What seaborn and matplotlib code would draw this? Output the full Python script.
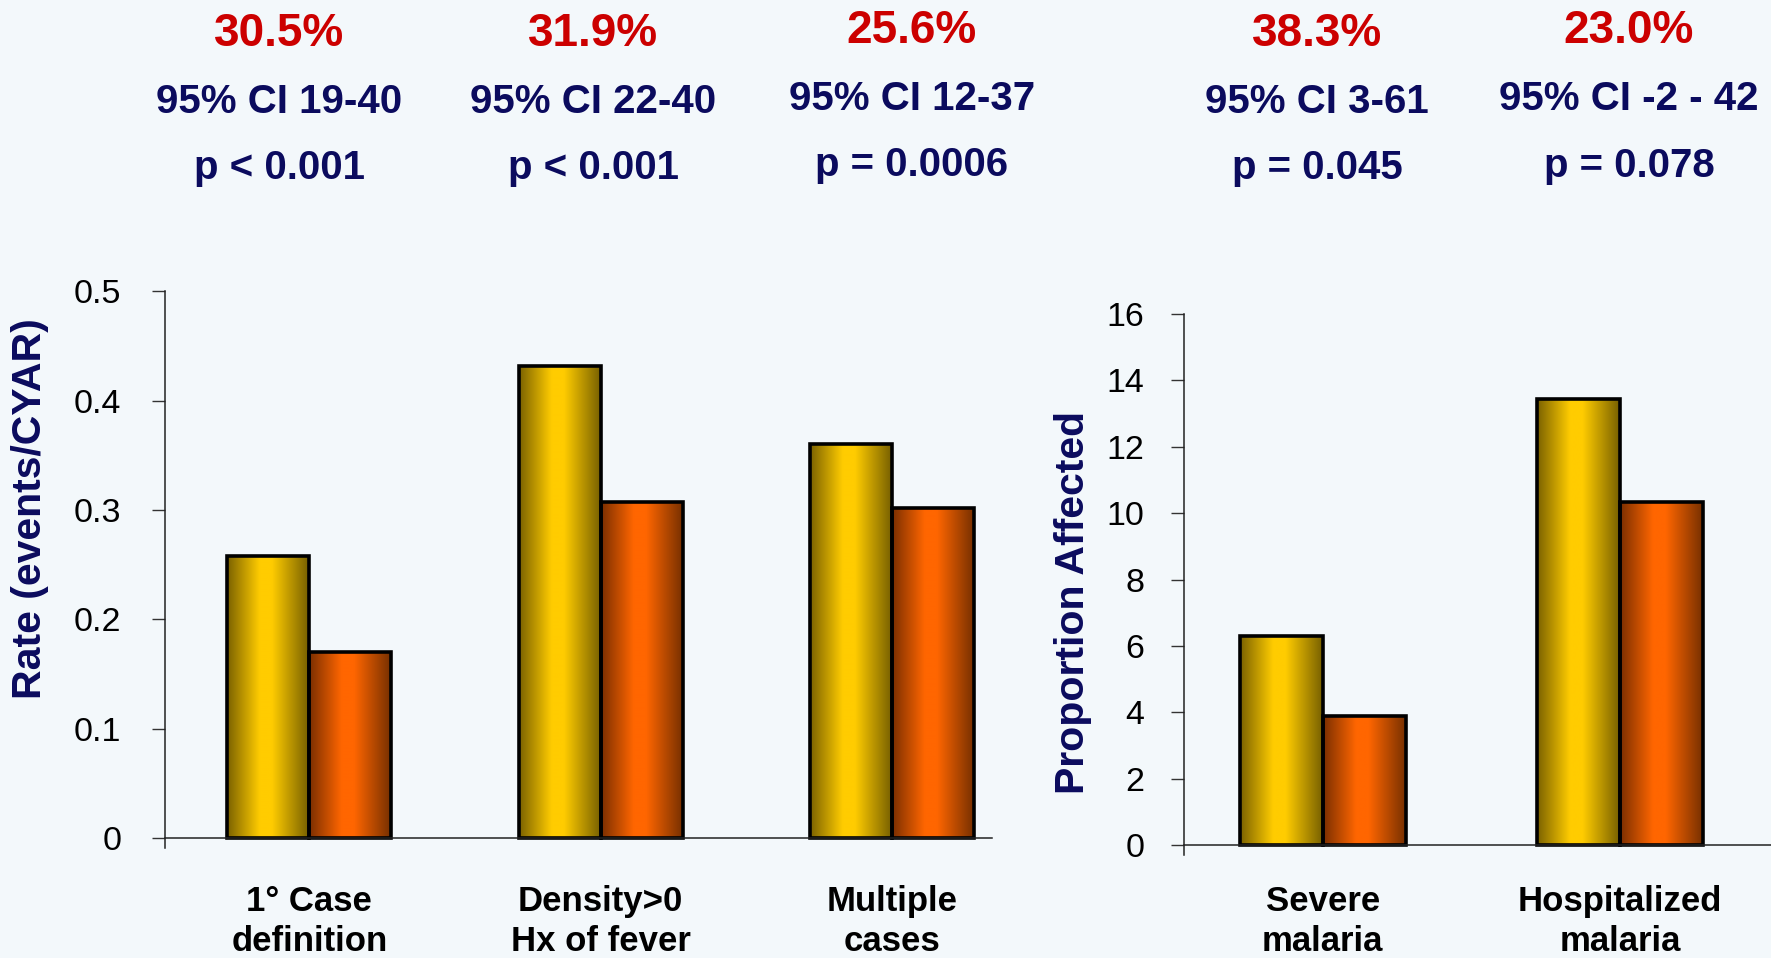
import numpy as np
import pandas as pd
import matplotlib
matplotlib.use("Agg")
import matplotlib.pyplot as plt
from matplotlib.colors import LinearSegmentedColormap
import seaborn as sns

# ---- data -------------------------------------------------------------
rate_categories = ["1° Case\ndefinition", "Density>0\nHx of fever", "Multiple\ncases"]
rate_control = [0.258, 0.432, 0.360]
rate_treated = [0.170, 0.307, 0.302]

prop_categories = ["Severe\nmalaria", "Hospitalized\nmalaria"]
prop_control = [6.30, 13.45]
prop_treated = [3.90, 10.35]

arms = ["Control", "Intervention"]

efficacy = ["30.5%", "31.9%", "25.6%", "38.3%", "23.0%"]
conf_int = ["95% CI 19-40", "95% CI 22-40", "95% CI 12-37", "95% CI 3-61", "95% CI -2 - 42"]
p_values = ["p < 0.001", "p < 0.001", "p = 0.0006", "p = 0.045", "p = 0.078"]

rate_ticks = [0, 0.1, 0.2, 0.3, 0.4, 0.5]
rate_ticklabels = ["0", "0.1", "0.2", "0.3", "0.4", "0.5"]
prop_ticks = [0, 2, 4, 6, 8, 10, 12, 14, 16]

# ---- style ------------------------------------------------------------
BG = "#F3F8FB"
NAVY = "#0B0B5E"
RED = "#CC0000"
W, H = 1771, 958

sns.set_theme(style="ticks")
plt.rcParams["font.family"] = ["Liberation Sans", "DejaVu Sans"]
plt.rcParams["axes.edgecolor"] = "#222222"
plt.rcParams["axes.linewidth"] = 1.1

yellow_cmap = LinearSegmentedColormap.from_list(
    "gold", [(0.0, "#7A6100"), (0.40, "#FFCC00"), (0.55, "#FFCC00"), (1.0, "#776000")])
orange_cmap = LinearSegmentedColormap.from_list(
    "flame", [(0.0, "#7A2E00"), (0.40, "#FF6600"), (0.55, "#FF6600"), (1.0, "#773000")])

rate_df = pd.DataFrame({
    "category": rate_categories * 2,
    "arm": [arms[0]] * 3 + [arms[1]] * 3,
    "value": rate_control + rate_treated,
})
prop_df = pd.DataFrame({
    "category": prop_categories * 2,
    "arm": [arms[0]] * 2 + [arms[1]] * 2,
    "value": prop_control + prop_treated,
})

fig = plt.figure(figsize=(W / 100, H / 100), dpi=100, facecolor=BG)
ax1 = fig.add_axes([0.0932, 0.1144, 0.4669, 0.5814])
ax2 = fig.add_axes([0.6686, 0.1075, 0.3314, 0.5647])


def draw_panel(ax, df, width, xlim, ylim, yticks, yticklabels, ypad, xpad):
    ax.set_facecolor(BG)
    sns.barplot(data=df, x="category", y="value", hue="arm", ax=ax,
                width=width, palette=["#FFCC00", "#FF6600"],
                edgecolor="black", linewidth=2.6, legend=False)
    # shaded cylinder-like fill inside every bar
    for container, cmap in zip(ax.containers, [yellow_cmap, orange_cmap]):
        for patch in container.patches:
            x0, w = patch.get_x(), patch.get_width()
            y0, h = patch.get_y(), patch.get_height()
            grad = np.linspace(0, 1, 256)[None, :]
            im = ax.imshow(grad, extent=[x0, x0 + w, y0, y0 + h], aspect="auto",
                           cmap=cmap, interpolation="bilinear", zorder=0.9)
            im.set_clip_path(patch)
            patch.set_facecolor("none")
            patch.set_zorder(1.5)
    ax.set_xlim(*xlim)
    ax.set_ylim(*ylim)
    ax.set_yticks(yticks)
    ax.set_yticklabels(yticklabels)
    ax.spines["top"].set_visible(False)
    ax.spines["right"].set_visible(False)
    ax.spines["bottom"].set_position(("data", 0))
    ax.set_xlabel("")
    ax.set_ylabel("")
    ax.tick_params(axis="y", length=9.5, width=1.0, color="#333333",
                   labelsize=24.5, pad=ypad, labelcolor="black")
    ax.tick_params(axis="x", length=0, pad=xpad, labelsize=25, labelcolor="black")
    for lab in ax.get_xticklabels():
        lab.set_fontweight("bold")
        lab.set_linespacing(1.27)


draw_panel(ax1, rate_df, 0.562, (-0.495, 2.343), (-0.0095, 0.5),
           rate_ticks, rate_ticklabels, ypad=22, xpad=34)
draw_panel(ax2, prop_df, 0.558, (-0.467, 1.509), (-0.3, 16),
           prop_ticks, [str(t) for t in prop_ticks], ypad=19, xpad=29)

# axis titles
fig.text(30.5 / W, 1 - 508.5 / H, "Rate (events/CYAR)", rotation=90, ha="center",
         va="center", fontsize=29.5, fontweight="bold", color=NAVY)
fig.text(1073 / W, 1 - 602.5 / H, "Proportion Affected", rotation=90, ha="center",
         va="center", fontsize=29.5, fontweight="bold", color=NAVY)

# efficacy summaries above the bars
col_x = [279, 593, 912, 1317, 1629]
row_base = [[46, 113, 179], [46, 113, 179], [43, 110, 176], [46, 113, 179], [43, 110, 177]]
for cx, rows, eff, ci, pv in zip(col_x, row_base, efficacy, conf_int, p_values):
    fig.text(cx / W, 1 - rows[0] / H, eff, ha="center", va="baseline",
             fontsize=33, fontweight="bold", color=RED)
    fig.text(cx / W, 1 - rows[1] / H, ci, ha="center", va="baseline",
             fontsize=29, fontweight="bold", color=NAVY)
    fig.text(cx / W, 1 - rows[2] / H, pv, ha="center", va="baseline",
             fontsize=29, fontweight="bold", color=NAVY)

fig.savefig("out.png", dpi=100, facecolor=BG)
